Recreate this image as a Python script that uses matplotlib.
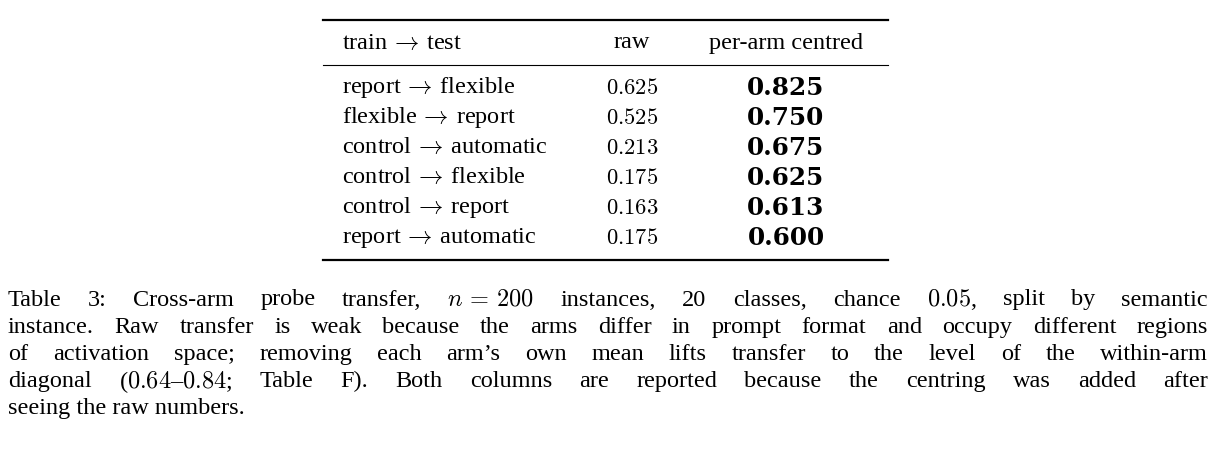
import matplotlib
matplotlib.use("Agg")
import matplotlib.pyplot as plt

train = ["report", "flexible", "control", "control", "control", "report"]
test = ["flexible", "report", "automatic", "flexible", "report", "automatic"]
raw = [0.625, 0.525, 0.213, 0.175, 0.163, 0.175]
centred = [0.825, 0.750, 0.675, 0.625, 0.613, 0.600]
headers = ["train$\\,\\rightarrow\\,$test", "raw", "per-arm centred"]

caption_lines = [
    "Table 3: Cross-arm probe transfer, $n\\,=\\,200$ instances, 20 classes, chance $0.05$, split by semantic",
    "instance. Raw transfer is weak because the arms differ in prompt format and occupy different regions",
    "of activation space; removing each arm\u2019s own mean lifts transfer to the level of the within-arm",
    "diagonal ($0.64$\u2013$0.84$; Table F). Both columns are reported because the centring was added after",
    "seeing the raw numbers.",
]

plt.rcParams["font.family"] = ["Liberation Serif", "DejaVu Serif"]
plt.rcParams["mathtext.fontset"] = "cm"
W, H = 1219, 470
fig = plt.figure(figsize=(W / 100, H / 100), dpi=100)
ax = fig.add_axes([0, 0, 1, 1])
ax.set_xlim(0, W)
ax.set_ylim(H, 0)
ax.axis("off")
fs = 17.5

ax.plot([323, 888], [20, 20], color="black", lw=1.6)
ax.plot([323, 888], [65, 65], color="black", lw=0.8)
ax.plot([323, 888], [260, 260], color="black", lw=1.6)

ax.text(342, 43, headers[0], fontsize=fs, va="center", ha="left")
ax.text(632, 43, headers[1], fontsize=fs, va="center", ha="center")
ax.text(786, 43, headers[2], fontsize=fs, va="center", ha="center")

for i in range(len(train)):
    y = 88 + 30 * i
    ax.text(342, y, f"{train[i]}$\\,\\rightarrow\\,${test[i]}", fontsize=fs, va="center", ha="left")
    ax.text(632, y, f"${raw[i]:.3f}$", fontsize=fs * 0.93, va="center", ha="center")
    ax.text(786, y, f"{centred[i]:.3f}", fontsize=fs * 1.02, fontweight="bold",
            family=["DejaVu Serif"], va="center", ha="center")

fig.canvas.draw()
r = fig.canvas.get_renderer()
x0, x1 = 8, 1208
for li, line in enumerate(caption_lines):
    y = 300 + 27.2 * li
    words = line.split(" ")
    if li == len(caption_lines) - 1:
        ax.text(x0, y, line, fontsize=fs, va="center", ha="left")
        continue
    ts = [ax.text(0, y, w, fontsize=fs, va="center", ha="left") for w in words]
    widths = [t.get_window_extent(r).width for t in ts]
    gap = (x1 - x0 - sum(widths)) / (len(words) - 1)
    x = x0
    for t, w in zip(ts, widths):
        t.set_x(x)
        x += w + gap

fig.savefig("out.png", dpi=100)
